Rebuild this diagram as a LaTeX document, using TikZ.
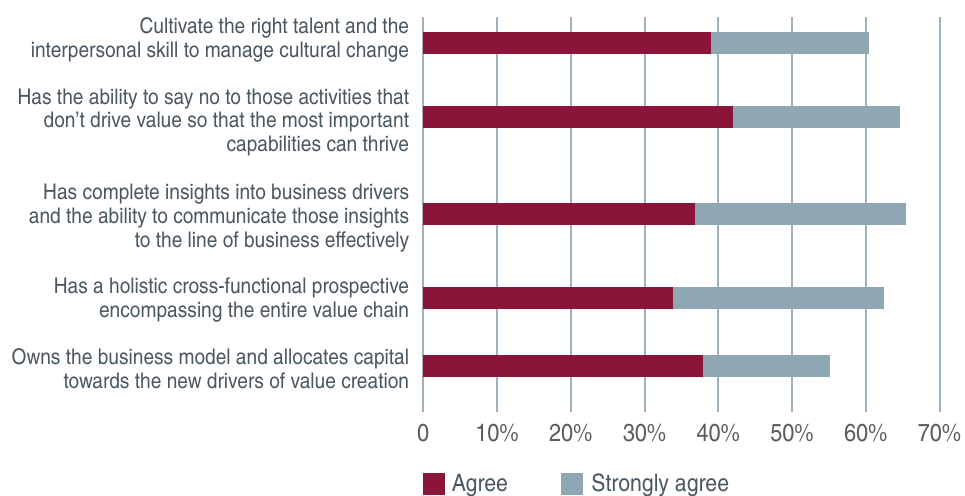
\documentclass[tikz,border=0pt]{standalone}
\usepackage{fontspec}
\setmainfont{texgyreheroscn}[Extension=.otf,UprightFont=*-regular,BoldFont=*-bold,FakeStretch=1.08]
\usetikzlibrary{positioning,calc}
\definecolor{agreered}{HTML}{8A1538}
\definecolor{stronggray}{HTML}{8FA7B2}
\definecolor{gridblue}{HTML}{9DB2BC}
\definecolor{labelgray}{HTML}{4A5862}
\definecolor{tickgray}{HTML}{5A5C5E}
\tikzset{
    rowlabel/.style={anchor=north east,align=right,inner sep=0pt,text=labelgray,
        font=\fontsize{10.8}{11.85}\selectfont},
    ticklabel/.style={anchor=base,inner sep=0pt,text=tickgray,font=\fontsize{12.3}{14}\selectfont},
    keybox/.style={minimum size=11pt,inner sep=0pt,anchor=north west},
    keytext/.style={anchor=base west,inner sep=0pt,text=labelgray,font=\fontsize{12}{13}\selectfont},
    gridline/.style={draw=gridblue,line width=1pt}
}

\begin{document}
\begin{tikzpicture}[x=0.5pt,y=-0.5pt]
    \useasboundingbox (0,0) rectangle (965,495);
    \foreach \i in {0,...,7}{
        \coordinate (gt\i) at ({423.3+73.75*\i},17);
        \coordinate (gb\i) at ({423.3+73.75*\i},412);
        \draw[gridline] (gt\i) -- (gb\i);
        \ifnum\i=0
            \node[ticklabel] (tick\i) at ({423.3+73.75*\i},441.5) {0};
        \else
            \node[ticklabel] (tick\i) at ({423.3+73.75*\i},441.5) {\i0\%};
        \fi
    }
    \foreach \y/\a/\s [count=\i] in {32/39.0/60.4,106/41.95/64.6,203/36.8/65.5,287/33.9/62.4,355/37.9/55.2}{
        \fill[agreered] (423.3,\y) rectangle ({423.3+7.375*\a},\y+22);
        \fill[stronggray] ({423.3+7.375*\a},\y) rectangle ({423.3+7.375*\s},\y+22);
    }
    \node[rowlabel] (talent) at (409.5,17.3) {Cultivate the right talent and the\\interpersonal skill to manage cultural change};
    \node[rowlabel] (sayno) at (409.5,88.3) {Has the ability to say no to those activities that\\don’t drive value so that the most important\\capabilities can thrive};
    \node[rowlabel] (insight) at (409.5,184) {Has complete insights into business drivers\\and the ability to communicate those insights\\to the line of business effectively};
    \node[rowlabel] (holistic) at (409.5,277.7) {Has a holistic cross-functional prospective\\encompassing the entire value chain};
    \node[rowlabel] (owns) at (409.5,348.3) {Owns the business model and allocates capital\\towards the new drivers of value creation};
    \node[keybox,fill=agreered] (keyagree) at (422.5,473) {};
    \node[keytext] (txtagree) at (451.5,491.5) {Agree};
    \node[keybox,fill=stronggray] (keystrong) at (561,473) {};
    \node[keytext] (txtstrong) at (591,491) {Strongly agree};
\end{tikzpicture}
\end{document}
